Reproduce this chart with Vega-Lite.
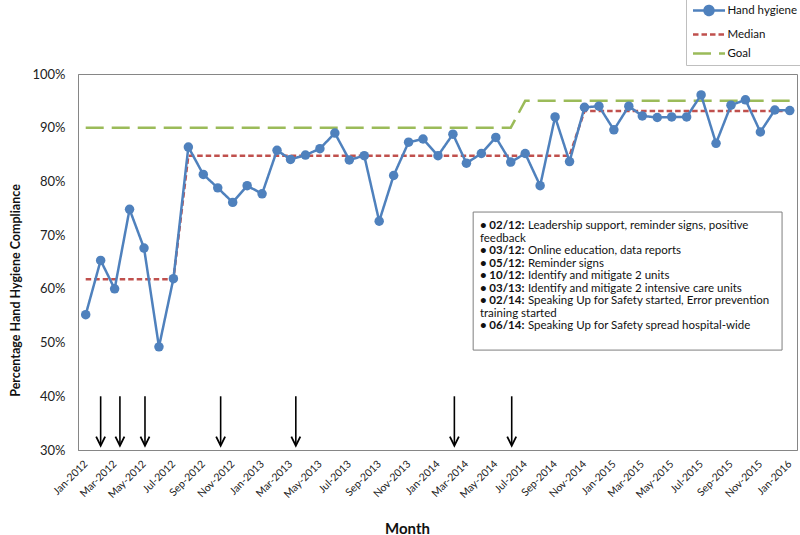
{
  "$schema": "https://vega.github.io/schema/vega-lite/v6.json",
  "width": 719,
  "height": 376,
  "autosize": {"type": "none"},
  "padding": {"left": 78, "top": 74, "right": 3, "bottom": 85},
  "background": "white",
  "config": {
    "font": "Lato",
    "view": {"stroke": "#868686", "strokeWidth": 1},
    "axis": {"grid": false, "ticks": false, "tickSize": 0, "domainColor": "#868686", "labelColor": "#222", "titleColor": "#111", "labelFont": "Lato", "titleFont": "Lato"}
  },
  "datasets": {
    "hh": [
      {"date": "2012-01-01", "Hand hygiene": 55.2, "Median": 61.8, "Goal": 90},
      {"date": "2012-02-01", "Hand hygiene": 65.3, "Median": 61.8, "Goal": 90},
      {"date": "2012-03-01", "Hand hygiene": 60.0, "Median": 61.8, "Goal": 90},
      {"date": "2012-04-01", "Hand hygiene": 74.8, "Median": 61.8, "Goal": 90},
      {"date": "2012-05-01", "Hand hygiene": 67.6, "Median": 61.8, "Goal": 90},
      {"date": "2012-06-01", "Hand hygiene": 49.2, "Median": 61.8, "Goal": 90},
      {"date": "2012-07-01", "Hand hygiene": 61.9, "Median": 61.8, "Goal": 90},
      {"date": "2012-08-01", "Hand hygiene": 86.4, "Median": 84.8, "Goal": 90},
      {"date": "2012-09-01", "Hand hygiene": 81.3, "Median": 84.8, "Goal": 90},
      {"date": "2012-10-01", "Hand hygiene": 78.8, "Median": 84.8, "Goal": 90},
      {"date": "2012-11-01", "Hand hygiene": 76.1, "Median": 84.8, "Goal": 90},
      {"date": "2012-12-01", "Hand hygiene": 79.2, "Median": 84.8, "Goal": 90},
      {"date": "2013-01-01", "Hand hygiene": 77.7, "Median": 84.8, "Goal": 90},
      {"date": "2013-02-01", "Hand hygiene": 85.8, "Median": 84.8, "Goal": 90},
      {"date": "2013-03-01", "Hand hygiene": 84.1, "Median": 84.8, "Goal": 90},
      {"date": "2013-04-01", "Hand hygiene": 84.9, "Median": 84.8, "Goal": 90},
      {"date": "2013-05-01", "Hand hygiene": 86.1, "Median": 84.8, "Goal": 90},
      {"date": "2013-06-01", "Hand hygiene": 89.0, "Median": 84.8, "Goal": 90},
      {"date": "2013-07-01", "Hand hygiene": 84.0, "Median": 84.8, "Goal": 90},
      {"date": "2013-08-01", "Hand hygiene": 84.8, "Median": 84.8, "Goal": 90},
      {"date": "2013-09-01", "Hand hygiene": 72.6, "Median": 84.8, "Goal": 90},
      {"date": "2013-10-01", "Hand hygiene": 81.1, "Median": 84.8, "Goal": 90},
      {"date": "2013-11-01", "Hand hygiene": 87.3, "Median": 84.8, "Goal": 90},
      {"date": "2013-12-01", "Hand hygiene": 87.9, "Median": 84.8, "Goal": 90},
      {"date": "2014-01-01", "Hand hygiene": 84.8, "Median": 84.8, "Goal": 90},
      {"date": "2014-02-01", "Hand hygiene": 88.8, "Median": 84.8, "Goal": 90},
      {"date": "2014-03-01", "Hand hygiene": 83.4, "Median": 84.8, "Goal": 90},
      {"date": "2014-04-01", "Hand hygiene": 85.2, "Median": 84.8, "Goal": 90},
      {"date": "2014-05-01", "Hand hygiene": 88.2, "Median": 84.8, "Goal": 90},
      {"date": "2014-06-01", "Hand hygiene": 83.6, "Median": 84.8, "Goal": 90},
      {"date": "2014-07-01", "Hand hygiene": 85.2, "Median": 84.8, "Goal": 95},
      {"date": "2014-08-01", "Hand hygiene": 79.2, "Median": 84.8, "Goal": 95},
      {"date": "2014-09-01", "Hand hygiene": 92.0, "Median": 84.8, "Goal": 95},
      {"date": "2014-10-01", "Hand hygiene": 83.7, "Median": 84.8, "Goal": 95},
      {"date": "2014-11-01", "Hand hygiene": 93.8, "Median": 93.1, "Goal": 95},
      {"date": "2014-12-01", "Hand hygiene": 94.0, "Median": 93.1, "Goal": 95},
      {"date": "2015-01-01", "Hand hygiene": 89.6, "Median": 93.1, "Goal": 95},
      {"date": "2015-02-01", "Hand hygiene": 94.0, "Median": 93.1, "Goal": 95},
      {"date": "2015-03-01", "Hand hygiene": 92.2, "Median": 93.1, "Goal": 95},
      {"date": "2015-04-01", "Hand hygiene": 91.9, "Median": 93.1, "Goal": 95},
      {"date": "2015-05-01", "Hand hygiene": 92.0, "Median": 93.1, "Goal": 95},
      {"date": "2015-06-01", "Hand hygiene": 92.0, "Median": 93.1, "Goal": 95},
      {"date": "2015-07-01", "Hand hygiene": 96.1, "Median": 93.1, "Goal": 95},
      {"date": "2015-08-01", "Hand hygiene": 87.1, "Median": 93.1, "Goal": 95},
      {"date": "2015-09-01", "Hand hygiene": 94.2, "Median": 93.1, "Goal": 95},
      {"date": "2015-10-01", "Hand hygiene": 95.2, "Median": 93.1, "Goal": 95},
      {"date": "2015-11-01", "Hand hygiene": 89.2, "Median": 93.1, "Goal": 95},
      {"date": "2015-12-01", "Hand hygiene": 93.3, "Median": 93.1, "Goal": 95},
      {"date": "2016-01-01", "Hand hygiene": 93.2, "Median": 93.1, "Goal": 95}
    ],
    "arrows": [
      {"date": "2012-02-01", "event": "02/12"},
      {"date": "2012-03-12", "event": "03/12"},
      {"date": "2012-05-03", "event": "05/12"},
      {"date": "2012-10-07", "event": "10/12"},
      {"date": "2013-03-12", "event": "03/13"},
      {"date": "2014-02-04", "event": "02/14"},
      {"date": "2014-06-03", "event": "06/14"}
    ],
    "notes": [
      {"line": 1, "tag": "• 02/12:", "text": "Leadership support, reminder signs, positive"},
      {"line": 2, "tag": "", "text": "feedback"},
      {"line": 3, "tag": "• 03/12:", "text": "Online education, data reports"},
      {"line": 4, "tag": "• 05/12:", "text": "Reminder signs"},
      {"line": 5, "tag": "• 10/12:", "text": "Identify and mitigate 2 units"},
      {"line": 6, "tag": "• 03/13:", "text": "Identify and mitigate 2 intensive care units"},
      {"line": 7, "tag": "• 02/14:", "text": "Speaking Up for Safety  started, Error prevention"},
      {"line": 8, "tag": "", "text": "training started"},
      {"line": 9, "tag": "• 06/14:", "text": "Speaking Up for Safety spread hospital-wide"}
    ]
  },
  "resolve": {"scale": {"y": "independent"}},
  "layer": [
    {
      "layer": [
        {
          "data": {"name": "hh"},
          "transform": [{"fold": ["Goal", "Median", "Hand hygiene"], "as": ["series", "value"]}],
          "mark": {"type": "line", "strokeWidth": 2.5, "strokeCap": "butt"},
          "encoding": {
            "x": {
              "field": "date", "type": "temporal",
              "scale": {"type": "utc", "domain": [{"year": 2011, "month": 12, "date": 16, "utc": true}, {"year": 2016, "month": 1, "date": 16, "utc": true}]},
              "axis": {"format": "%b-%Y", "tickCount": {"interval": "month", "step": 2}, "labelAngle": -45, "labelAlign": "right", "labelBaseline": "middle", "labelFontSize": 10.5, "labelPadding": 12, "labelOverlap": false, "labelFlush": false, "title": "Month", "titleFontSize": 15, "titleFontWeight": "bold", "titleX": 329, "titleY": 83, "titleBaseline": "alphabetic"}
            },
            "y": {
              "field": "value", "type": "quantitative",
              "scale": {"domain": [30, 100], "zero": false, "nice": false},
              "axis": {"orient": "left", "values": [30, 40, 50, 60, 70, 80, 90, 100], "labelExpr": "datum.value + '%'", "labelFontSize": 13, "labelPadding": 13, "title": "Percentage Hand Hygiene Compliance", "titleFontSize": 12.5, "titleFontWeight": "bold", "titleX": -63, "titleY": 216, "titleAlign": "center", "titleBaseline": "middle"}
            },
            "color": {
              "field": "series", "type": "nominal",
              "scale": {"domain": ["Hand hygiene", "Median", "Goal"], "range": ["#4f81bd", "#c0504d", "#9bbb59"]},
              "legend": {
                "title": null, "orient": "none", "legendX": 608, "legendY": -76,
                "symbolType": "M-1.1,0H5.3", "symbolSize": 100, "symbolStrokeWidth": 2.5,
                "labelFont": "Lato", "labelFontSize": 11.5, "labelColor": "#111", "labelOffset": 22.5,
                "rowPadding": 7,
                "strokeColor": "#bfbfbf", "fillColor": "white", "padding": 6,
                "encode": {"symbols": {"update": {
                  "shape": {"signal": "datum.value === 'Hand hygiene' ? 'M-1.1,0H5.3M1.2,0A0.9,0.9,0,1,0,3.0,0A0.9,0.9,0,1,0,1.2,0' : 'M-1.1,0H5.3'"},
                  "fill": {"signal": "datum.value === 'Hand hygiene' ? '#4f81bd' : 'transparent'"}
                }}}
              }
            },
            "strokeDash": {
              "field": "series", "type": "nominal",
              "scale": {"domain": ["Hand hygiene", "Median", "Goal"], "range": [[1, 0], [5.5, 3], [18, 8]]}
            }
          }
        },
        {
          "data": {"name": "hh"},
          "mark": {"type": "point", "filled": true, "size": 90, "color": "#4f81bd", "opacity": 1},
          "encoding": {
            "x": {"field": "date", "type": "temporal"},
            "y": {"field": "Hand hygiene", "type": "quantitative"}
          }
        },
        {
          "data": {"name": "arrows"},
          "mark": {"type": "rule", "color": "black", "strokeWidth": 1.6},
          "encoding": {
            "x": {"field": "date", "type": "temporal"},
            "y": {"datum": 40},
            "y2": {"datum": 31}
          }
        },
        {
          "data": {"name": "arrows"},
          "mark": {"type": "point", "shape": "M-1,-2L0,0L1,-2", "size": 81, "filled": false, "color": "black", "strokeWidth": 1.8, "opacity": 1, "strokeJoin": "miter"},
          "encoding": {
            "x": {"field": "date", "type": "temporal"},
            "y": {"datum": 30.8}
          }
        },
        {
          "data": {"values": [{}]},
          "mark": {"type": "rect", "fill": "white", "stroke": "#7f7f7f", "strokeWidth": 1},
          "encoding": {
            "x": {"datum": {"year": 2014, "month": 3, "date": 15, "utc": true}, "type": "temporal"},
            "x2": {"datum": {"year": 2015, "month": 12, "date": 16, "utc": true}},
            "y": {"datum": 74.3},
            "y2": {"datum": 48.6}
          }
        }
      ]
    },
    {
      "data": {"name": "notes"},
      "encoding": {
        "x": {"datum": {"year": 2014, "month": 3, "date": 29, "utc": true}, "type": "temporal"},
        "y": {"field": "line", "type": "quantitative", "scale": {"domain": [-11.4, 18.68], "reverse": true, "zero": false, "nice": false}, "axis": null}
      },
      "layer": [
        {
          "transform": [{"filter": "datum.tag !== ''"}],
          "mark": {"type": "text", "align": "left", "baseline": "alphabetic", "fontSize": 11.5, "fontWeight": "bold", "color": "#111"},
          "encoding": {"text": {"field": "tag"}}
        },
        {
          "transform": [{"filter": "datum.tag !== ''"}],
          "mark": {"type": "text", "align": "left", "baseline": "alphabetic", "fontSize": 11.5, "color": "#111", "dx": 48},
          "encoding": {"text": {"field": "text"}}
        },
        {
          "transform": [{"filter": "datum.tag === ''"}],
          "mark": {"type": "text", "align": "left", "baseline": "alphabetic", "fontSize": 11.5, "color": "#111"},
          "encoding": {"text": {"field": "text"}}
        }
      ]
    }
  ]
}
